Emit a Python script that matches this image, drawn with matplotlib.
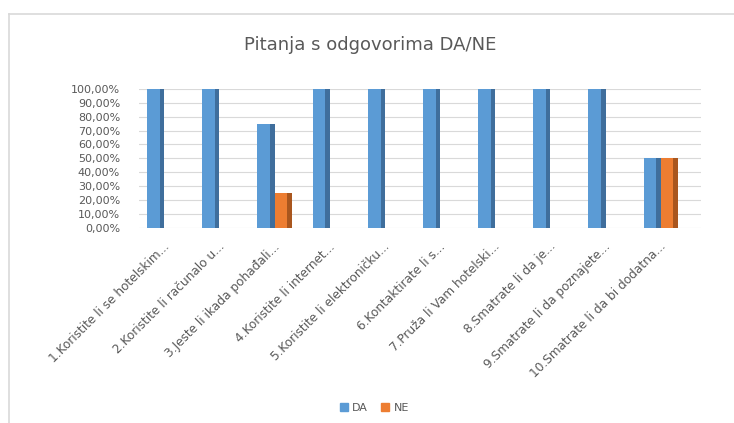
import numpy as np
import matplotlib
matplotlib.use("Agg")
import matplotlib.pyplot as plt
import matplotlib.transforms as mtrans
from matplotlib.lines import Line2D
from matplotlib.patches import Rectangle
from matplotlib.ticker import FuncFormatter

categories = [
    "1.Koristite li se hotelskim...",
    "2.Koristite li računalo u...",
    "3.Jeste li ikada pohađali...",
    "4.Koristite li internet...",
    "5.Koristite li elektroničku...",
    "6.Kontaktirate li s...",
    "7.Pruža li Vam hotelski...",
    "8.Smatrate li da je...",
    "9.Smatrate li da poznajete...",
    "10.Smatrate li da bi dodatna...",
]
da = [1.00, 1.00, 0.75, 1.00, 1.00, 1.00, 1.00, 1.00, 1.00, 0.50]
ne = [0.00, 0.00, 0.25, 0.00, 0.00, 0.00, 0.00, 0.00, 0.00, 0.50]

blue, blue_side = "#5B9BD5", "#3F6E9C"
orange, orange_side = "#ED7D31", "#A9561E"
grey = "#595959"

fig = plt.figure(figsize=(7.34, 4.23), dpi=100)
# chart frame (only top and left edges fall inside the picture)
fig.add_artist(Line2D([0.012, 1.0], [0.967, 0.967], transform=fig.transFigure,
                      color="#D9D9D9", lw=1.2))
fig.add_artist(Line2D([0.012, 0.012], [0.0, 0.967], transform=fig.transFigure,
                      color="#D9D9D9", lw=1.2))

ax = fig.add_axes([0.19, 0.461, 0.765, 0.329])

x = np.arange(len(categories))
w = 0.31
side = 0.08
ax.bar(x - w / 2, da, w, color=blue, zorder=3)
ax.bar(x - side / 2, da, side, color=blue_side, zorder=3.5)
ax.bar(x + w / 2, ne, w, color=orange, zorder=4)
ax.bar(x + w - side / 2, ne, side, color=orange_side, zorder=4.5)

ax.set_ylim(0, 1.0)
ax.set_xlim(-0.45, len(categories) - 0.27)
ax.set_yticks(np.arange(0, 1.01, 0.1))
ax.yaxis.set_major_formatter(FuncFormatter(lambda v, p: ("%.2f%%" % (v * 100)).replace(".", ",")))
ax.grid(axis="y", color="#D9D9D9", lw=0.8, zorder=0)
for s in ax.spines.values():
    s.set_visible(False)
ax.tick_params(axis="y", length=0, labelsize=8, labelcolor=grey, pad=14)
ax.tick_params(axis="x", length=0, pad=12)
ax.set_xticks(x)
ax.set_xticklabels(categories, rotation=45, ha="right", va="center",
                   rotation_mode="anchor", fontsize=8.7, color=grey)
shift = mtrans.ScaledTranslation(2 / 72, 0, fig.dpi_scale_trans)
for lbl in ax.get_xticklabels():
    lbl.set_transform(lbl.get_transform() + shift)

fig.text(0.505, 0.893, "Pitanja s odgovorima DA/NE", ha="center", va="center",
         fontsize=13, color=grey)

h1 = Rectangle((0, 0), 1, 1, color=blue)
h2 = Rectangle((0, 0), 1, 1, color=orange)
fig.legend([h1, h2], ["DA", "NE"], loc="center", bbox_to_anchor=(0.51, 0.035),
           ncol=2, frameon=False, fontsize=8, labelcolor=grey,
           handlelength=0.7, handleheight=0.7, columnspacing=1.2, handletextpad=0.4)

fig.savefig("out.png", dpi=100)
